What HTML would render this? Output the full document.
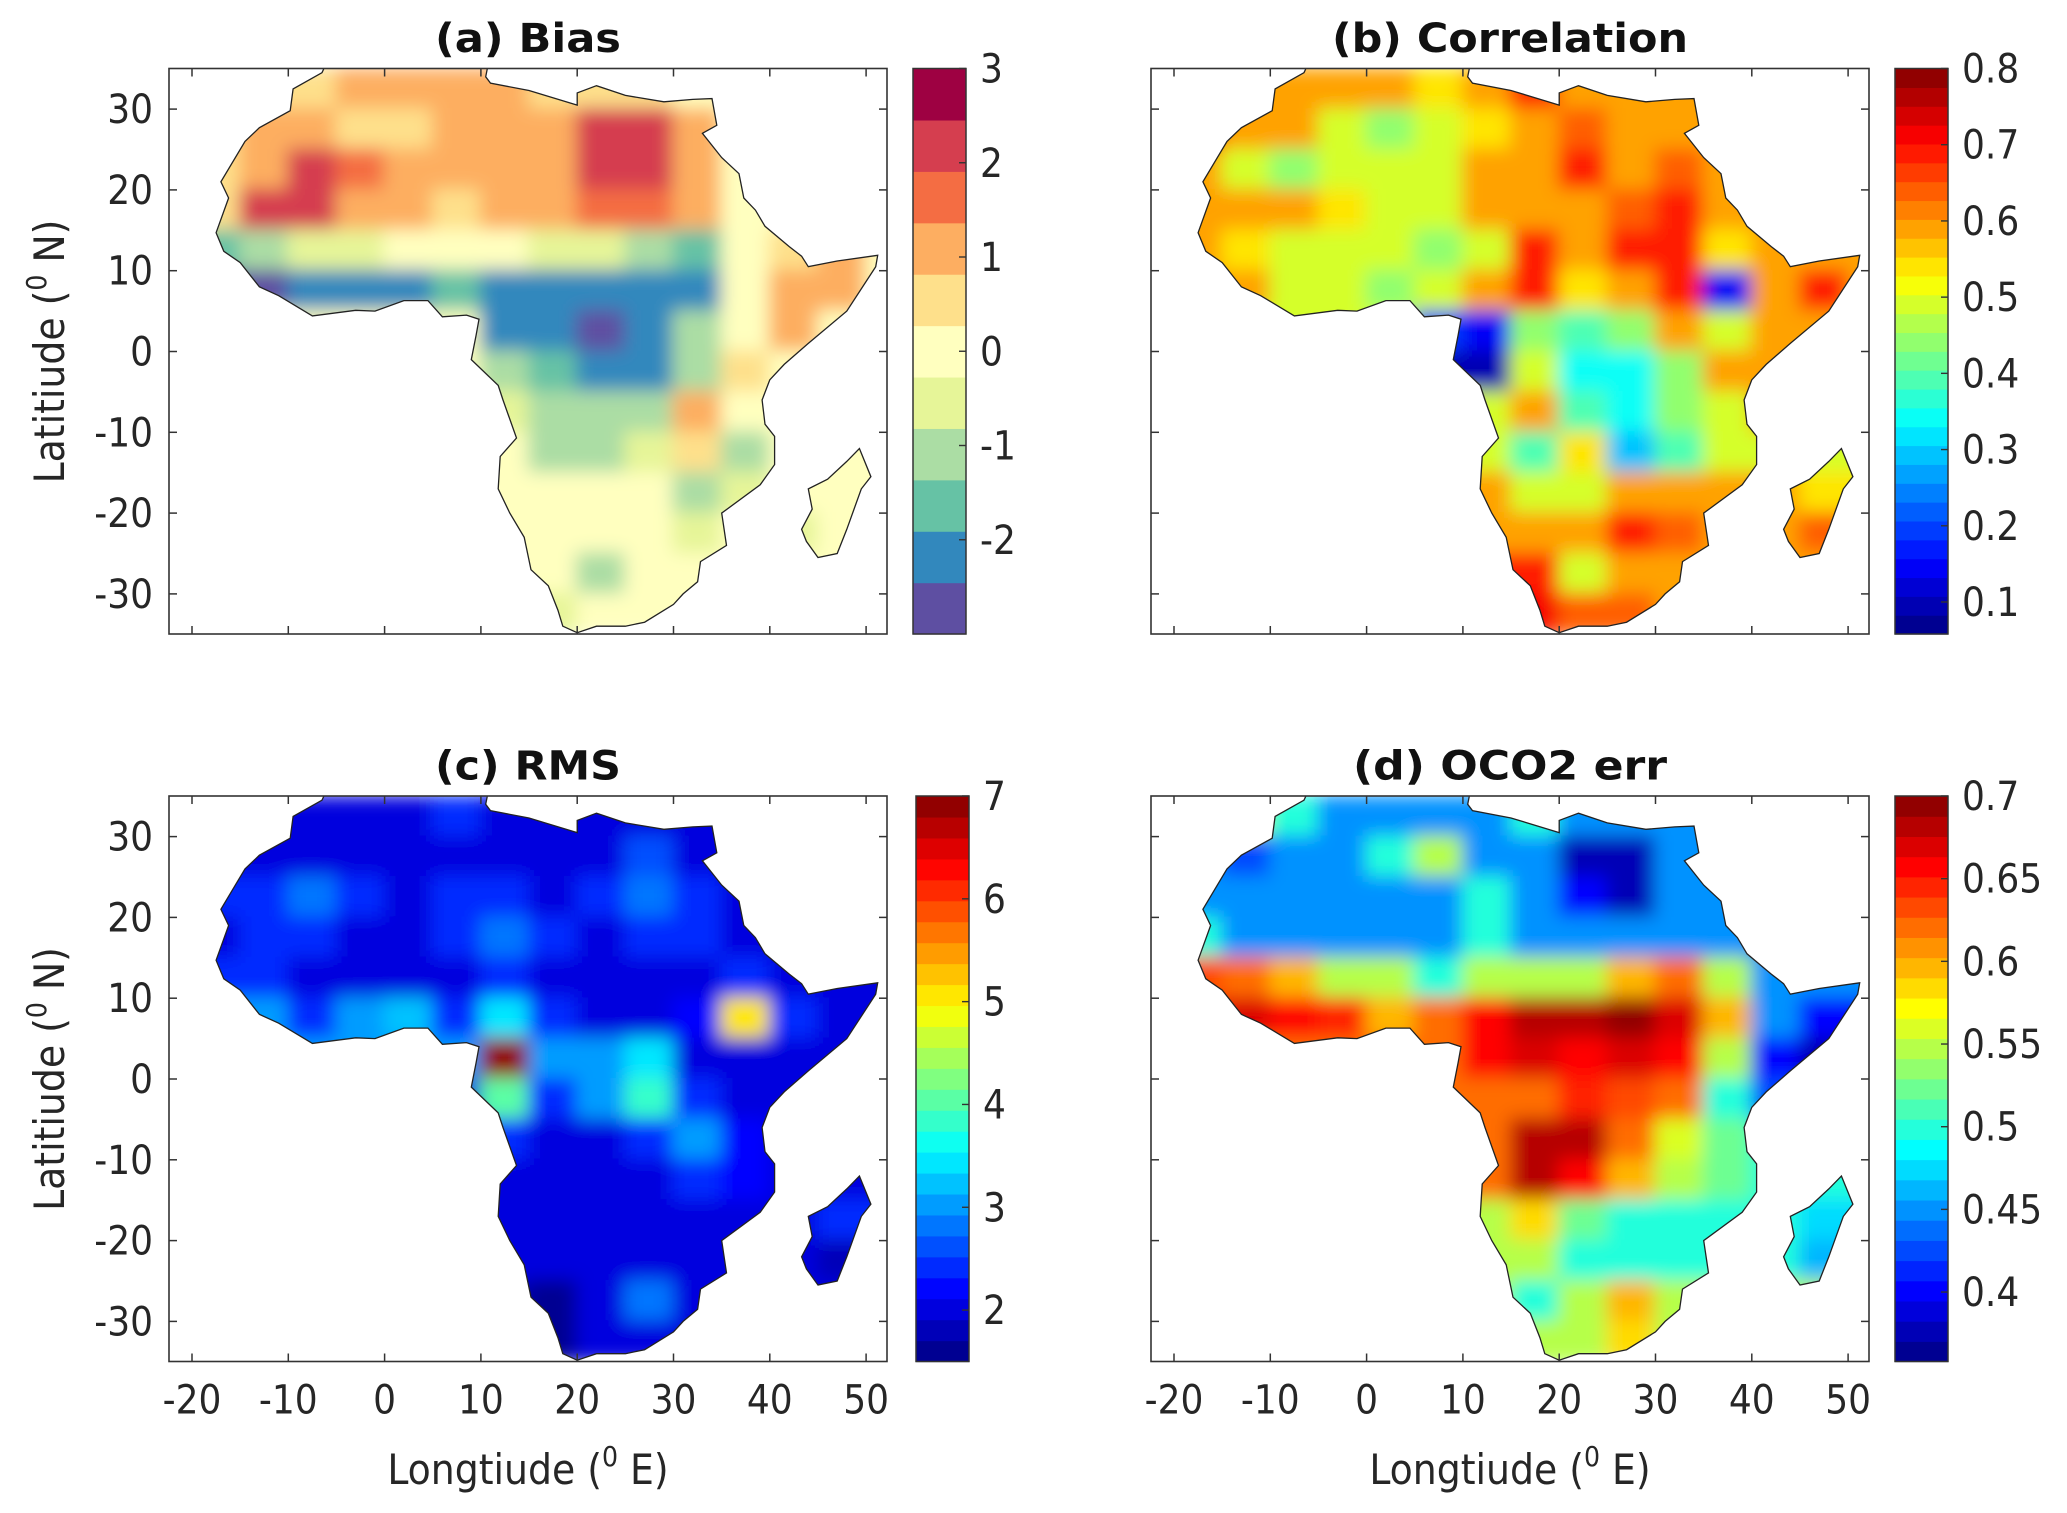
<!DOCTYPE html>
<html><head><meta charset="utf-8"><style>
html,body{margin:0;padding:0;background:#fff;}
svg{display:block;font-family:"DejaVu Sans Condensed","DejaVu Sans","Liberation Sans",sans-serif;}
</style></head><body>
<svg id="fig" width="2067" height="1513" viewBox="0 0 2067 1513" xmlns="http://www.w3.org/2000/svg">
<defs>
<filter id="soft" x="-5%" y="-5%" width="110%" height="110%"><feGaussianBlur stdDeviation="9"/></filter>
</defs>
</svg>
<script>
// ---- grid definition (cell centres, 5 degree cells) ----
const lons = [-17.5,-12.5,-7.5,-2.5,2.5,7.5,12.5,17.5,22.5,27.5,32.5,37.5,42.5,47.5,52.5];
const lats = [32.5,27.5,22.5,17.5,12.5,7.5,2.5,-2.5,-7.5,-12.5,-17.5,-22.5,-27.5,-32.5];
const lonTicks = [-20,-10,0,10,20,30,40,50];
const latTicks = [30,20,10,0,-10,-20,-30];
// ---- panel values ----
const biasVals = [
[0,0.3,0.7,1,1,1,1,0.5,0.3,0.3,0,0,0,0,0],
[0.5,1,1,0.3,0.3,1,1,1,2,2,1,0,0,0,0],
[0.5,1.2,2,1.5,1,1,1,1,2,2,1,0,0,0,0],
[0.5,2,2.3,1.2,1,0.3,1,1,1.5,1.5,1,0,0,0,0],
[-1.5,-1,-0.8,-0.5,0,0.2,0,-0.3,-0.5,-1,-1.8,0,0.5,1,0],
[-2.5,-2.5,-2,-2,-2,-1.8,-2,-2,-2,-2,-2,0,1,1,0],
[0,0,0,0,0,0,-2,-2.2,-2.7,-2,-1,0,1,0,0],
[0,0,0,0,0,0,-1,-1.5,-2,-2,-1,0.5,0,0,0],
[0,0,0,0,0,0,-0.5,-1,-1,-1,1,0,0,0,0],
[0,0,0,0,0,0,0,-1,-1,-0.5,0.5,-1,0,0,0],
[0,0,0,0,0,0,0,0,0,0,-1,-0.5,0,0,0],
[0,0,0,0,0,0,0,0,0,0,-0.5,0,-0.3,0,0],
[0,0,0,0,0,0,0,0,-1,0,0,0,0,0,0],
[0,0,0,0,0,0,-0.8,-0.8,0,0,0,0,0,0,0]];
const corrVals = [
[.6,.6,.6,.6,.6,.55,.6,.7,.6,.6,.6,.6,.6,.6,.6],
[.7,.6,.6,.5,.45,.5,.55,.6,.65,.6,.6,.6,.6,.6,.6],
[.6,.5,.45,.5,.5,.5,.6,.6,.7,.6,.65,.6,.6,.6,.6],
[.6,.6,.6,.55,.5,.5,.6,.6,.6,.65,.7,.6,.6,.6,.6],
[.6,.55,.5,.5,.5,.45,.5,.7,.6,.7,.7,.55,.6,.6,.6],
[.6,.6,.5,.5,.45,.5,.6,.7,.55,.6,.7,.15,.6,.7,.6],
[.5,.5,.5,.5,.5,.2,.15,.45,.4,.45,.6,.5,.6,.6,.6],
[.5,.5,.5,.5,.5,.1,.1,.5,.35,.35,.45,.6,.6,.6,.6],
[.5,.5,.5,.5,.5,.5,.5,.6,.4,.35,.45,.5,.6,.6,.6],
[.5,.5,.5,.5,.5,.5,.5,.4,.55,.3,.4,.5,.5,.5,.5],
[.6,.6,.6,.6,.6,.6,.6,.5,.5,.6,.6,.6,.6,.55,.55],
[.6,.6,.6,.6,.6,.6,.6,.6,.6,.7,.65,.6,.6,.65,.65],
[.7,.7,.7,.7,.7,.7,.7,.7,.5,.6,.6,.6,.6,.6,.6],
[.7,.7,.7,.7,.7,.7,.7,.72,.65,.65,.6,.6,.6,.6,.6]];
const rmsVals = [
[2,2,2,2,2,2.5,2,2,2,2,2,2,2,2,2],
[2,2,2,2,2,2,2,2,2,2.7,2,2,2,2,2],
[2.5,2.5,2.8,2.5,2,2.5,2.5,2,2.5,2.8,2.5,2,2,2,2],
[2,2.5,2.5,2,2,2.5,2.8,2.5,2,2.5,2.5,2,2,2,2],
[2.5,2.5,2,2,2,2,2.5,2,2,2,2,2.5,2,2,2],
[3,3,2.5,3,3.3,2.5,3.5,2.5,2,2,2.3,5,2.5,2,2],
[3,3,3,3,3,3,7,3,3,3.5,2,2,2,2,2],
[2,2,2,2,2,2,4,2.5,3,3.8,2.5,2,2,2,2],
[2,2,2,2,2,2,2.5,2,2,2.5,3,2.2,2,2,2],
[2,2,2,2,2,2,2,2,2,2,2.5,2.2,2,2,2],
[2,2,2,2,2,2,2,2,2,2,2,2,2,2.5,2.5],
[2,2,2,2,2,2,2,2,2,2,2,2,2,1.8,1.8],
[1.8,1.8,1.8,1.8,1.8,1.8,1.8,1.7,2,2.8,2,2,2,2,2],
[1.7,1.7,1.7,1.7,1.7,1.7,1.7,1.7,2,2,2,2,2,2,2]];
const errVals = [
[.55,.55,.5,.45,.45,.45,.45,.5,.45,.45,.45,.45,.45,.45,.45],
[.45,.42,.45,.45,.5,.55,.45,.45,.38,.38,.45,.45,.45,.45,.45],
[.45,.45,.45,.45,.45,.45,.5,.45,.4,.38,.45,.45,.45,.45,.45],
[.5,.45,.45,.45,.45,.45,.5,.45,.45,.45,.45,.45,.45,.45,.45],
[.63,.62,.6,.55,.55,.5,.55,.55,.55,.6,.62,.55,.45,.45,.45],
[.66,.67,.66,.64,.6,.62,.66,.68,.68,.69,.67,.6,.45,.4,.4],
[.62,.62,.62,.62,.62,.62,.66,.67,.66,.67,.66,.55,.4,.38,.38],
[.62,.62,.62,.62,.62,.62,.62,.62,.65,.63,.62,.5,.42,.42,.42],
[.62,.62,.62,.62,.62,.62,.62,.68,.68,.62,.56,.52,.5,.5,.5],
[.62,.62,.62,.62,.62,.62,.62,.68,.66,.6,.55,.52,.5,.5,.5],
[.55,.55,.55,.55,.55,.55,.55,.58,.52,.5,.5,.5,.5,.47,.47],
[.55,.55,.55,.55,.55,.55,.55,.55,.5,.5,.5,.5,.5,.46,.46],
[.55,.55,.55,.55,.55,.55,.55,.5,.55,.6,.55,.55,.55,.55,.55],
[.55,.55,.55,.55,.55,.55,.55,.55,.55,.58,.55,.55,.55,.55,.55]];
const biasTicks = [3,2,1,0,-1,-2];
const corrTicks = [0.8,0.7,0.6,0.5,0.4,0.3,0.2,0.1];
const rmsTicks = [7,6,5,4,3,2];
const errTicks = [0.7,0.65,0.6,0.55,0.5,0.45,0.4];
const africa = [[-6,35.8],[-2,35.1],[3,36.8],[10,37.3],[11,37],[10.5,34],[11,33.2],[15,32.3],[20,30.5],[20,32],[22,32.9],[25,31.7],[29,30.9],[32,31.2],[34,31.3],[34.5,28],[33,27],[35,24],[36.8,22],[37.3,19],[38.5,17.5],[39.5,15.5],[42,13],[43.3,11.8],[44,10.5],[47,11.2],[51.2,11.9],[51,10.5],[48,5],[44,1],[41.5,-1.6],[40,-3.5],[39.2,-6],[39.5,-9],[40.5,-10.5],[40.5,-14],[39,-16.5],[35,-20],[35.5,-24],[32.8,-26],[32.5,-28.5],[31,-30],[30,-31.3],[27,-33.5],[25,-34],[22,-34],[20,-34.8],[18.5,-34],[18,-32],[17,-29],[15.2,-27],[14.5,-23],[13,-20],[11.8,-17],[12,-13],[13.7,-10.7],[12.3,-6],[11.8,-4.2],[9,-1],[9.5,2],[9.8,4],[8.5,4.5],[6,4.3],[4.5,6.3],[2,6.3],[-1,5],[-3,5.1],[-7.5,4.4],[-11,6.9],[-13,8],[-15,11],[-16.7,12.4],[-17.5,14.7],[-16.2,19],[-17,21],[-14.5,26],[-13,27.7],[-9.8,29.8],[-9.5,32.5],[-6.5,34.5]];
const madagascar = [[49.3,-12],[50.5,-15.5],[49.5,-17],[48,-22],[47,-25],[45,-25.5],[43.8,-23.5],[43.3,-22],[44.4,-19.5],[44,-17],[46,-15.8],[48,-13.6]];

const NS="http://www.w3.org/2000/svg";
const svg=document.getElementById('fig');
const defs=svg.querySelector('defs');
function mk(tag,attrs,parent){const e=document.createElementNS(NS,tag);for(const k in attrs)e.setAttribute(k,attrs[k]);(parent||svg).appendChild(e);return e;}

const spectral=['#5e4fa2','#3288bd','#66c2a5','#abdda4','#e6f598','#ffffbf','#fee08b','#fdae61','#f46d43','#d53e4f','#9e0142'];
function jet(t){t=Math.max(0,Math.min(1,t));
 const r=Math.max(0,Math.min(1,1.5-Math.abs(4*t-3))),g=Math.max(0,Math.min(1,1.5-Math.abs(4*t-2))),b=Math.max(0,Math.min(1,1.5-Math.abs(4*t-1)));
 return `rgb(${Math.round(r*255)},${Math.round(g*255)},${Math.round(b*255)})`;}
function makeCmap(kind,vmin,vmax,n){
 return function(v){let k=Math.floor((v-vmin)/(vmax-vmin)*n);k=Math.max(0,Math.min(n-1,k));
  return kind==='spectral'?spectral[k]:jet((k+0.5)/n);};}

const panels=[
 {key:'bias',title:'(a) Bias',tw:186,ox:0,oy:0,vals:biasVals,ticks:biasTicks,vmin:-3,vmax:3,n:11,kind:'spectral',ylab:true,xlab:false,cbx:913},
 {key:'correlation',title:'(b) Correlation',tw:356,ox:982,oy:0,vals:corrVals,ticks:corrTicks,vmin:0.058,vmax:0.8,n:30,kind:'jet',ylab:false,xlab:false,cbx:1895},
 {key:'rms',title:'(c) RMS',tw:186,ox:0,oy:727.5,vals:rmsVals,ticks:rmsTicks,vmin:1.5,vmax:7,n:27,kind:'jet',ylab:true,xlab:true,cbx:916},
 {key:'oco2-err',title:'(d) OCO2 err',tw:314,ox:982,oy:727.5,vals:errVals,ticks:errTicks,vmin:0.358,vmax:0.7,n:28,kind:'jet',ylab:false,xlab:true,cbx:1895}
];

panels.forEach((p,pi)=>{
 const X=lon=>p.ox+192+(lon+20)*9.63;
 const Y=lat=>p.oy+351.5-lat*8.08;
 const bx0=p.ox+169,bx1=p.ox+887,by0=p.oy+68.5,by1=p.oy+634;
 const cmap=makeCmap(p.kind,p.vmin,p.vmax,p.n);
 const g=mk('g',{});
 
 
 const bc=mk('clipPath',{id:'box'+pi},defs);
 mk('rect',{x:bx0,y:by0,width:bx1-bx0,height:by1-by0},bc);
 const cp=mk('clipPath',{id:'clip'+pi},defs);
 const ptsA=africa.map(q=>X(q[0]).toFixed(1)+','+Y(q[1]).toFixed(1)).join(' ');
 const ptsM=madagascar.map(q=>X(q[0]).toFixed(1)+','+Y(q[1]).toFixed(1)).join(' ');
 mk('polygon',{points:ptsA},cp);mk('polygon',{points:ptsM},cp);
 const inner=mk('g',{'clip-path':`url(#box${pi})`},g);
 const clipG=mk('g',{'clip-path':`url(#clip${pi})`},inner);
 const field=mk('g',{filter:'url(#soft)'},clipG);
 
 
 p.vals.forEach((row,ri)=>row.forEach((v,ci)=>{
  const r=mk('rect',{x:X(lons[ci]-2.5)-1,y:Y(lats[ri]+2.5)-1,width:9.63*5+2,height:8.08*5+2,fill:cmap(v)},field);
  
  
 }));
 const coast=mk('polygon',{points:ptsA,fill:'none',stroke:'#222','stroke-width':1.3},inner);
 
 
 const mad=mk('polygon',{points:ptsM,fill:'none',stroke:'#222','stroke-width':1.3},inner);
 
 
 const box=mk('rect',{x:bx0,y:by0,width:bx1-bx0,height:by1-by0,fill:'none',stroke:'#333','stroke-width':1.6},g);
 
 
 lonTicks.forEach(t=>{const x=X(t);
  mk('line',{x1:x,x2:x,y1:by1,y2:by1-8,stroke:'#333','stroke-width':1.5},g);
  mk('line',{x1:x,x2:x,y1:by0,y2:by0+8,stroke:'#333','stroke-width':1.5},g);
  if(p.xlab){const tx=mk('text',{x:x,y:by1+52,'font-size':40,'text-anchor':'middle',fill:'#262626'},svg);tx.textContent=String(t);
   
   }
 });
 latTicks.forEach(t=>{const y=Y(t);
  mk('line',{x1:bx0,x2:bx0+8,y1:y,y2:y,stroke:'#333','stroke-width':1.5},g);
  mk('line',{x1:bx1,x2:bx1-8,y1:y,y2:y,stroke:'#333','stroke-width':1.5},g);
  if(p.ylab){const tx=mk('text',{x:153,y:y+14,'font-size':40,'text-anchor':'end',fill:'#262626'},svg);tx.textContent=String(t);
   
   }
 });
 const ti=mk('text',{x:(bx0+bx1)/2,y:p.oy+52,'font-size':40,'font-weight':'bold','text-anchor':'middle',fill:'#111',textLength:p.tw,lengthAdjust:'spacingAndGlyphs'},svg);
 ti.textContent=p.title;
 
 
 if(p.xlab){const xl=mk('text',{x:(bx0+bx1)/2,y:1484,'font-size':42,'text-anchor':'middle',fill:'#262626'},svg);
  xl.innerHTML='Longtiude (<tspan font-size="28" dy="-18">0</tspan><tspan dy="18"> E)</tspan>';
  
  }
 if(p.ylab){const cy=Y(0);const yl=mk('text',{x:0,y:0,'font-size':42,'text-anchor':'middle',fill:'#262626',transform:`translate(64,${cy}) rotate(-90)`},svg);
  yl.innerHTML='Latitiude (<tspan font-size="28" dy="-18">0</tspan><tspan dy="18"> N)</tspan>';
  
  }
 const cbW=53;
 const cbg=mk('g',{},svg);
 
 
 const cy0=by0,cy1=by1,CY=v=>cy1-(v-p.vmin)/(p.vmax-p.vmin)*(cy1-cy0);
 for(let k=0;k<p.n;k++){const v0=p.vmin+k*(p.vmax-p.vmin)/p.n,v1=p.vmin+(k+1)*(p.vmax-p.vmin)/p.n;
  mk('rect',{x:p.cbx,y:CY(v1),width:cbW,height:CY(v0)-CY(v1)+0.6,fill:cmap((v0+v1)/2)},cbg);}
 mk('rect',{x:p.cbx,y:cy0,width:cbW,height:cy1-cy0,fill:'none',stroke:'#333','stroke-width':1.5},cbg);
 p.ticks.forEach(t=>{const y=CY(t);
  mk('line',{x1:p.cbx+cbW,x2:p.cbx+cbW-7,y1:y,y2:y,stroke:'#333','stroke-width':1.4},cbg);
  const tx=mk('text',{x:p.cbx+cbW+14,y:y+14,'font-size':40,fill:'#262626'},cbg);tx.textContent=String(t);
  
  
 });
});
</script>
</body></html>
